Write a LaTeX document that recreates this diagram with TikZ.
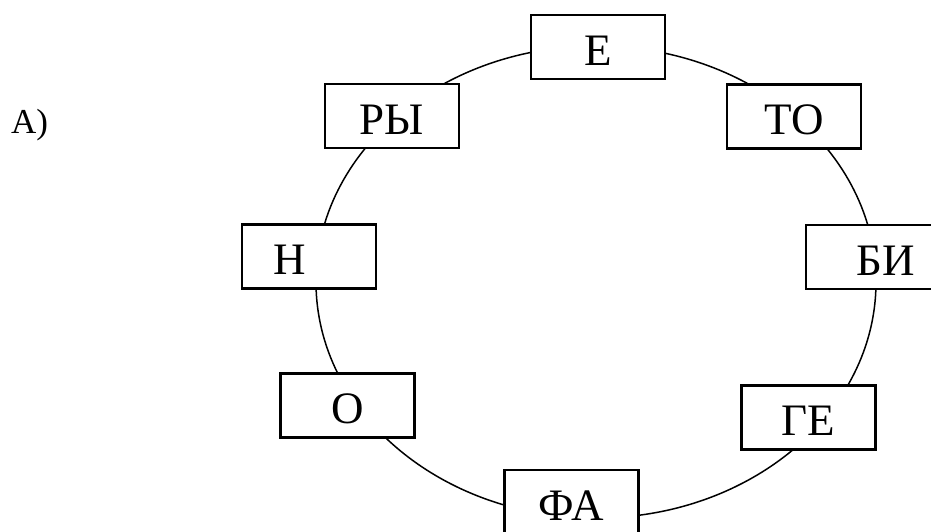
\documentclass[tikz,border=0pt]{standalone}
\usepackage{fontspec}
\setmainfont{Liberation Serif}

\begin{document}
\begin{tikzpicture}[x=1pt, y=-1pt,
    cell/.style={draw, line width=2.2pt, fill=white, minimum width=134pt, minimum height=64pt,
        inner sep=0pt, text height=36pt, text depth=0pt, font=\fontsize{45}{54}\selectfont}]
    \useasboundingbox (0,0) rectangle (931,531);
    \clip (0,0) rectangle (931,531);

    \node[anchor=base west, inner sep=0pt, font=\fontsize{35}{42}\selectfont] (lbl) at (11,133) {А)};

    % the ring
    \draw[line width=1.5pt] (596,282) ellipse [x radius=280, y radius=236];

    % syllables round the ring
    \node[cell] (e)  at (598,47)    {Е};
    \node[cell] (to) at (794,116.5) {ТО};
    \node[cell, text width=84pt, align=right, inner xsep=25pt] (bi) at (873,257) {БИ};
    \node[cell] (ge) at (808.5,417.5) {ГЕ};
    \node[cell] (fa) at (571.5,502) {ФА};
    \node[cell] (o)  at (347.5,405.5) {О};
    \node[cell, text width=72pt, align=left, inner xsep=31pt] (n) at (309,256.5) {Н};
    \node[cell] (ry) at (392,116) {РЫ};
\end{tikzpicture}
\end{document}
